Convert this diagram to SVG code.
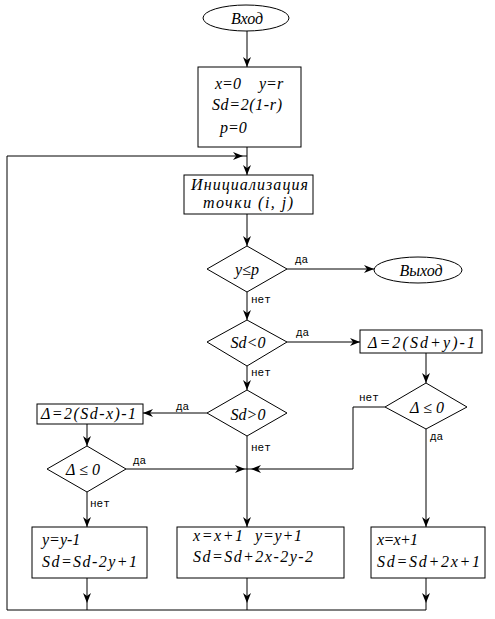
<svg xmlns="http://www.w3.org/2000/svg" width="495" height="619" viewBox="0 0 495 619">
<style>
.s{fill:#fff;stroke:#000;stroke-width:1}
.c{fill:none;stroke:#000;stroke-width:1}
.m{text-anchor:middle}
</style>
<defs>
<marker id="a" viewBox="0 0 10 8" refX="10" refY="4" markerWidth="10" markerHeight="8" markerUnits="userSpaceOnUse" orient="auto">
<path d="M0,0 L10,4 L0,8 L3,4 z" fill="#000"/>
</marker>
</defs>
<rect width="495" height="619" fill="#fff"/>
<g id="connectors">
<line class="c" x1="247" y1="31" x2="247" y2="67" marker-end="url(#a)"/>
<line class="c" x1="247" y1="147" x2="247" y2="175" marker-end="url(#a)"/>
<polyline class="c" points="7,610 7,156 243,156" marker-end="url(#a)"/>
<line class="c" x1="243" y1="156" x2="247" y2="156"/>
<line class="c" x1="247" y1="214" x2="247" y2="246" marker-end="url(#a)"/>
<line class="c" x1="287" y1="269" x2="374" y2="269" marker-end="url(#a)"/>
<line class="c" x1="247" y1="292" x2="247" y2="320" marker-end="url(#a)"/>
<line class="c" x1="287" y1="342" x2="360" y2="342" marker-end="url(#a)"/>
<line class="c" x1="247" y1="366" x2="247" y2="390" marker-end="url(#a)"/>
<line class="c" x1="426" y1="353" x2="426" y2="383" marker-end="url(#a)"/>
<line class="c" x1="207" y1="413" x2="143" y2="413" marker-end="url(#a)"/>
<line class="c" x1="87" y1="424" x2="87" y2="446" marker-end="url(#a)"/>
<line class="c" x1="126" y1="469" x2="245" y2="469" marker-end="url(#a)"/>
<polyline class="c" points="385,407 353,407 353,469 251,469" marker-end="url(#a)"/>
<line class="c" x1="251" y1="469" x2="245" y2="469"/>
<line class="c" x1="247" y1="436" x2="247" y2="527" marker-end="url(#a)"/>
<line class="c" x1="426" y1="429" x2="426" y2="527" marker-end="url(#a)"/>
<line class="c" x1="87" y1="492" x2="87" y2="527" marker-end="url(#a)"/>
<line class="c" x1="87" y1="578" x2="87" y2="603" marker-end="url(#a)"/>
<line class="c" x1="247" y1="578" x2="247" y2="603" marker-end="url(#a)"/>
<line class="c" x1="426" y1="578" x2="426" y2="603" marker-end="url(#a)"/>
<polyline class="c" points="87,603 87,610 7,610"/>
<polyline class="c" points="247,603 247,610"/>
<polyline class="c" points="426,603 426,610 87,610"/>
</g>
<g id="labels" font-family="Liberation Mono, monospace" font-size="11" fill="#000">
<text x="295" y="263">да</text>
<text x="251" y="303">нет</text>
<text x="296" y="336">да</text>
<text x="251" y="376">нет</text>
<text x="176" y="410">да</text>
<text x="251" y="451">нет</text>
<text x="359" y="401">нет</text>
<text x="430" y="440">да</text>
<text x="133" y="464">да</text>
<text x="90" y="507">нет</text>
</g>
<g id="nodes" font-family="Liberation Serif, serif" font-style="italic" font-size="16" fill="#000">
<g id="start">
<ellipse class="s" cx="246" cy="18" rx="43" ry="13"/>
<text class="m" x="247" y="24">Вход</text>
</g>
<g id="init">
<rect class="s" x="198" y="67" width="103" height="80"/>
<text x="215" y="89">x=0</text>
<text x="259" y="89">y=r</text>
<text x="212" y="110" textLength="70">Sd=2(1-r)</text>
<text x="220" y="133">p=0</text>
</g>
<g id="point">
<rect class="s" x="184" y="175" width="129" height="39"/>
<text x="191" y="190" textLength="117">Инициализация</text>
<text x="203" y="208" textLength="90">точки (i, j)</text>
</g>
<g id="cond1">
<polygon class="s" points="247,246 287,269 247,292 207,269"/>
<text class="m" x="247" y="275">y≤p</text>
</g>
<g id="exit">
<ellipse class="s" cx="418" cy="270" rx="44" ry="13"/>
<text class="m" x="421" y="276">Выход</text>
</g>
<g id="cond2">
<polygon class="s" points="247,320 287,342 247,366 207,342"/>
<text class="m" x="248" y="348">Sd&lt;0</text>
</g>
<g id="delta1">
<rect class="s" x="360" y="330" width="122" height="23"/>
<text x="368" y="348" textLength="107">Δ=2(Sd+y)-1</text>
</g>
<g id="cond3">
<polygon class="s" points="247,390 287,413 247,436 207,413"/>
<text class="m" x="248" y="420">Sd&gt;0</text>
</g>
<g id="cond4">
<polygon class="s" points="426,383 467,407 426,429 385,407"/>
<text class="m" x="427" y="413">Δ ≤ 0</text>
</g>
<g id="delta2">
<rect class="s" x="37" y="404" width="106" height="20"/>
<text x="41" y="419" textLength="95">Δ=2(Sd-x)-1</text>
</g>
<g id="cond5">
<polygon class="s" points="87,446 126,469 87,492 47,469"/>
<text class="m" x="83" y="475">Δ ≤ 0</text>
</g>
<g id="stepL">
<rect class="s" x="32" y="527" width="115" height="51"/>
<text x="42" y="545">y=y-1</text>
<text x="42" y="567" textLength="95">Sd=Sd-2y+1</text>
</g>
<g id="stepM">
<rect class="s" x="177" y="527" width="167" height="51"/>
<text x="193" y="541" textLength="50">x=x+1</text>
<text x="255" y="541" textLength="47">y=y+1</text>
<text x="193" y="562" textLength="120">Sd=Sd+2x-2y-2</text>
</g>
<g id="stepR">
<rect class="s" x="371" y="527" width="114" height="51"/>
<text x="377" y="545" textLength="41">x=x+1</text>
<text x="377" y="567" textLength="103">Sd=Sd+2x+1</text>
</g>
</g>
</svg>
